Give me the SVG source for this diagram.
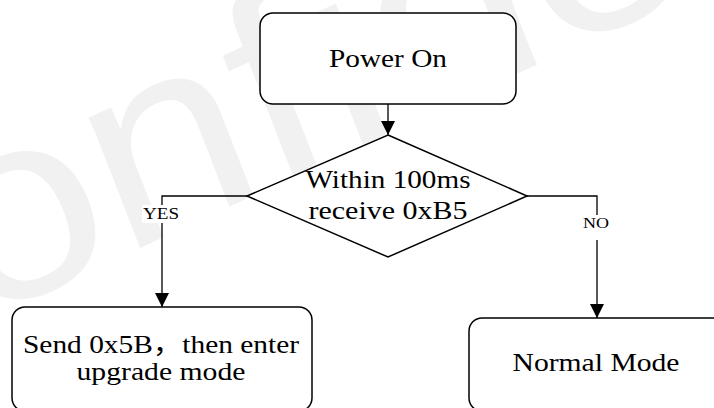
<svg xmlns="http://www.w3.org/2000/svg" width="714" height="408" viewBox="0 0 714 408">
  <style>
    .box { fill: #ffffff; stroke: #000000; stroke-width: 1.5; }
    .conn { fill: none; stroke: #000000; stroke-width: 1.3; }
    .t { font-family: "Liberation Serif", "Times New Roman", "Noto Sans CJK SC", serif; font-size: 26px; fill: #000000; text-anchor: middle; }
    .lbl { font-family: "Liberation Serif", "Times New Roman", serif; fill: #000000; text-anchor: middle; }
    .wm { font-family: "Liberation Sans", Arial, sans-serif; font-style: italic; font-size: 255px; fill: #f1f1f1; }
  </style>
  <defs>
    <marker id="arrow" markerUnits="userSpaceOnUse" markerWidth="14" markerHeight="14" refX="14" refY="7" orient="auto">
      <path d="M0,0 L14,7 L0,14 Z" fill="#000000"/>
    </marker>
  </defs>
  <rect width="714" height="408" fill="#ffffff"/>
  <g id="watermark">
    <text class="wm" transform="scale(1.2,1) translate(-172,408) rotate(-29)" x="0" y="0">Confidential</text>
  </g>
  <g id="connectors">
    <path class="conn" d="M388,104 V135" marker-end="url(#arrow)"/>
    <path class="conn" d="M247,196 H162 V307" marker-end="url(#arrow)"/>
    <path class="conn" d="M527,196 H597 V318" marker-end="url(#arrow)"/>
    <rect x="142" y="205" width="40" height="18" fill="#ffffff"/>
    <text class="lbl" x="161" y="219" font-size="16" textLength="36" lengthAdjust="spacingAndGlyphs">YES</text>
    <rect x="581" y="215" width="32" height="25" fill="#ffffff"/>
    <text class="lbl" x="596" y="228" font-size="15" textLength="26" lengthAdjust="spacingAndGlyphs">NO</text>
  </g>
  <g id="power-on">
    <rect class="box" x="260" y="13" width="256" height="91" rx="13" ry="13"/>
    <text class="t" x="388" y="67" textLength="118" lengthAdjust="spacingAndGlyphs">Power On</text>
  </g>
  <g id="decision">
    <polygon class="box" points="388,135 527,196 388,257 247,196"/>
    <text class="t" x="388" y="188" textLength="165" lengthAdjust="spacingAndGlyphs">Within 100ms</text>
    <text class="t" x="388" y="219" textLength="159" lengthAdjust="spacingAndGlyphs">receive 0xB5</text>
  </g>
  <g id="upgrade">
    <rect class="box" x="12" y="307" width="300" height="104" rx="13" ry="13"/>
    <text class="t" x="161" y="353" textLength="276" lengthAdjust="spacingAndGlyphs">Send 0x5B，then enter</text>
    <text class="t" x="161" y="380" textLength="169" lengthAdjust="spacingAndGlyphs">upgrade mode</text>
  </g>
  <g id="normal">
    <rect class="box" x="469" y="318" width="260" height="93" rx="13" ry="13"/>
    <text class="t" x="596" y="371" textLength="167" lengthAdjust="spacingAndGlyphs">Normal Mode</text>
  </g>
</svg>
